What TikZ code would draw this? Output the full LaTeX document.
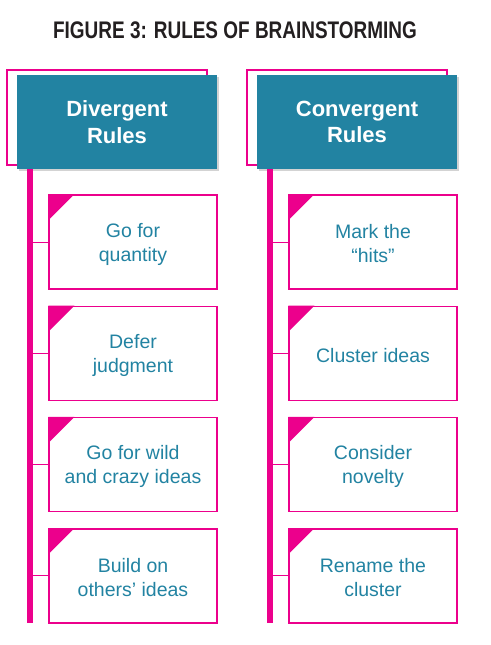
\documentclass[tikz,border=0pt]{standalone}
\usepackage{fontspec}
\setmainfont{Liberation Sans}
\newfontfamily\titlefont[FakeStretch=0.79]{Liberation Sans}
\usetikzlibrary{shadows}
\definecolor{rulepink}{HTML}{EC008C}
\definecolor{ruleteal}{HTML}{2283A2}
\definecolor{titlegray}{HTML}{231F20}
\tikzset{
  rulebox/.style={draw=rulepink, line width=1.3pt, fill=white, minimum width=168pt,
    minimum height=94pt, inner sep=0pt},
  ruletext/.style={text=ruleteal, align=center, font=\fontsize{19.5}{24}\selectfont},
  headbox/.style={fill=ruleteal, minimum width=200pt, minimum height=94pt, inner sep=0pt,
    align=center, text=white, font=\fontsize{22}{26}\selectfont\bfseries,
    drop shadow={shadow xshift=1.5pt, shadow yshift=-1.5pt, opacity=0.35}},
  backbox/.style={draw=rulepink, line width=1.3pt, minimum width=200pt, minimum height=95pt},
  ruleline/.style={draw=rulepink, line width=1pt},
  rulebar/.style={draw=rulepink, line width=6pt},
}
\begin{document}
\begin{tikzpicture}[x=1pt, y=-1pt]
	\useasboundingbox (0,0) rectangle (490,645);
	% Title:
	\node[font=\titlefont\fontsize{24}{28}\selectfont\bfseries, text=titlegray, anchor=base]
		(title) at (235,38.5) {FIGURE 3: RULES OF BRAINSTORMING};
	% Headers:
	\node[backbox] (divback) at (107,117.5) {};
	\node[backbox] (conback) at (347,117.5) {};
	\node[headbox] (divhead) at (117,122) {\raisebox{-2pt}{\shortstack{Divergent\\[3pt]Rules}}};
	\node[headbox] (conhead) at (357,122) {\raisebox{-2pt}{\shortstack{Convergent\\[3pt]Rules}}};
	% Bars:
	\coordinate (divtop) at (30,169);
	\coordinate (divend) at (30,623);
	\coordinate (contop) at (270,169);
	\coordinate (conend) at (270,623);
	\draw[rulebar] (divtop) -- (divend);
	\draw[rulebar] (contop) -- (conend);
	% Divergent rules:
	\foreach \txt [count=\i] in {{Go for\\quantity}, {Defer\\judgment},
		{Go for wild\\and crazy ideas}, {Build on\\others’ ideas}} {
		\node[rulebox] (div-\i) at (133,{242+111.3*(\i-1)}) {};
		\node[ruletext] (div-\i-txt) at ([yshift=-2pt]div-\i.center) {\txt};
		\fill[rulepink] (div-\i.north west) -- ++(26,0) -- ++(-26,26) -- cycle;
		\draw[ruleline] (div-\i.west) -- (div-\i.west -| divtop);
	}
	% Convergent rules:
	\foreach \txt [count=\i] in {{Mark the\\“hits”}, {Cluster ideas},
		{Consider\\novelty}, {Rename the\\cluster}} {
		\node[rulebox] (con-\i) at (373,{242+111.3*(\i-1)}) {};
		\node[ruletext] (con-\i-txt) at ([yshift=-2pt]con-\i.center) {\txt};
		\fill[rulepink] (con-\i.north west) -- ++(26,0) -- ++(-26,26) -- cycle;
		\draw[ruleline] (con-\i.west) -- (con-\i.west -| contop);
	}
\end{tikzpicture}
\end{document}
